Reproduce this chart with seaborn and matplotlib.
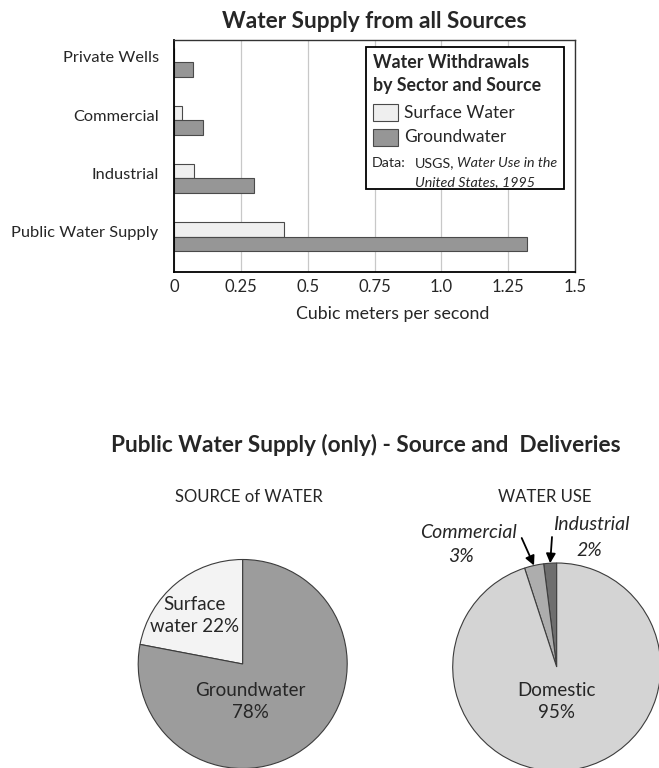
import numpy as np
import pandas as pd
import matplotlib
matplotlib.use("Agg")
import matplotlib.pyplot as plt
from matplotlib.patches import Rectangle
import seaborn as sns

# Withdrawals by sector (cubic meters per second)
sectors = ["Private Wells", "Commercial", "Industrial", "Public Water Supply"]
surface_water = [0.0, 0.03, 0.075, 0.41]
groundwater = [0.07, 0.11, 0.30, 1.32]
sources = ["Surface Water", "Groundwater"]
x_ticks = [0, 0.25, 0.5, 0.75, 1.0, 1.25, 1.5]
x_tick_labels = ["0", "0.25", "0.5", "0.75", "1.0", "1.25", "1.5"]

# Public water supply: source split and deliveries (percent)
source_names = ["Surface water", "Groundwater"]
source_share = [22, 78]
use_names = ["Industrial", "Commercial", "Domestic"]
use_share = [2, 3, 95]

W, H = 659, 768
sns.set_style("white")
plt.rcParams["font.family"] = ["Lato", "DejaVu Sans"]

fig = plt.figure(figsize=(W / 100, H / 100), dpi=100)


def fx(px):
    return px / W


def fy(py):
    return 1 - py / H


def fbox(left, top, right, bottom):
    return [fx(left), fy(bottom), (right - left) / W, (bottom - top) / H]


bar_colors = {"Surface Water": "#efefef", "Groundwater": "#969696"}

# ---- horizontal bar chart ----
ax = fig.add_axes(fbox(174, 40, 575, 272))
df = pd.DataFrame({
    "sector": sectors * 2,
    "source": [sources[0]] * len(sectors) + [sources[1]] * len(sectors),
    "flow": surface_water + groundwater,
})
sns.barplot(data=df, y="sector", x="flow", hue="source", order=sectors,
            hue_order=sources, palette=bar_colors, width=0.5, orient="h",
            edgecolor="#4a4a4a", linewidth=0.8, saturation=1, legend=False,
            errorbar=None, ax=ax)
ax.set_xlim(0, 1.5)
ax.set_ylim(3.61, -0.38)
ax.set_xticks(x_ticks, x_tick_labels)
ax.set_yticks(np.arange(len(sectors)) - 0.09, sectors)
ax.set_ylabel("")
ax.set_xlabel("Cubic meters per second", fontsize=12.8)
ax.xaxis.set_label_coords((393 - 174) / (575 - 174), -0.145)
ax.grid(axis="x", color="#c8c8c8", lw=0.9)
ax.set_axisbelow(True)
ax.tick_params(axis="both", length=0)
ax.tick_params(axis="y", pad=11, labelsize=11.8)
ax.tick_params(axis="x", pad=5, labelsize=12)
for side in ["left", "bottom"]:
    ax.spines[side].set_color("black")
    ax.spines[side].set_linewidth(1.3)
for side in ["top", "right"]:
    ax.spines[side].set_color("#333333")
    ax.spines[side].set_linewidth(1.0)

fig.text(fx(374), fy(21), "Water Supply from all Sources", ha="center",
         va="center", fontsize=16.3, fontweight="bold")

# legend box
fig.add_artist(Rectangle((fx(366), fy(189)), (564 - 366) / W, (189 - 47) / H,
                         transform=fig.transFigure, facecolor="white",
                         edgecolor="black", lw=1.3))
fig.text(fx(373), fy(63), "Water Withdrawals", ha="left", va="center",
         fontsize=12.8, fontweight="bold")
fig.text(fx(373), fy(85), "by Sector and Source", ha="left", va="center",
         fontsize=12.8, fontweight="bold")
for name, top in zip(sources, [104, 129]):
    fig.add_artist(Rectangle((fx(373), fy(top + 17)), 25 / W, 17 / H,
                             transform=fig.transFigure,
                             facecolor=bar_colors[name], edgecolor="#4a4a4a",
                             lw=0.8))
    fig.text(fx(404), fy(top + 8.5), name, ha="left", va="center",
             fontsize=12.5)
fig.text(fx(372), fy(163), "Data:", ha="left", va="center", fontsize=10.3)
fig.text(fx(415), fy(163), "USGS,", ha="left", va="center", fontsize=10.3)
fig.text(fx(457), fy(163), "Water Use in the", ha="left", va="center",
         fontsize=10.3, style="italic")
fig.text(fx(415), fy(182), "United States, 1995", ha="left", va="center",
         fontsize=10.3, style="italic")

# ---- pies ----
fig.text(fx(366), fy(445), "Public Water Supply (only) - Source and  Deliveries",
         ha="center", va="center", fontsize=16.3, fontweight="bold")
fig.text(fx(249), fy(497), "SOURCE of WATER", ha="center", va="center",
         fontsize=12)
fig.text(fx(545), fy(497), "WATER USE", ha="center", va="center",
         fontsize=12)

wedge_style = {"edgecolor": "#3c3c3c", "linewidth": 0.8, "clip_on": False}

ax1 = fig.add_axes(fbox(138.2, 559.5, 347.2, 768.5))
ax1.pie(source_share, startangle=90, counterclock=True, radius=1,
        colors=["#f3f3f3", "#9c9c9c"], wedgeprops=wedge_style)
ax1.set_xlim(-1, 1)
ax1.set_ylim(-1, 1)
ax1.text(-0.465, 0.46, f"Surface\n{source_names[0].split()[1]} {source_share[0]}%",
         ha="center", va="center", fontsize=13.5, linespacing=1.35)
ax1.text(0.07, -0.36, f"{source_names[1]}\n{source_share[1]}%",
         ha="center", va="center", fontsize=13.5, linespacing=1.35)

ax2 = fig.add_axes(fbox(452.7, 563, 660.7, 771))
wedges, _ = ax2.pie(use_share, startangle=90, counterclock=True, radius=1,
                    colors=["#6e6e6e", "#adadad", "#d4d4d4"],
                    wedgeprops=wedge_style)
ax2.set_xlim(-1, 1)
ax2.set_ylim(-1, 1)
ax2.text(0.0, -0.33, f"{use_names[2]}\n{use_share[2]}%", ha="center",
         va="center", fontsize=13.5, linespacing=1.35)

# arrows from italic labels to the two small wedges
cum = np.cumsum([0] + use_share)
label_pos = {"Industrial": ((591, 525), (589, 550), (552, 537)),
             "Commercial": ((468, 533), (461, 557), (521.7, 538))}
for i, name in enumerate(use_names[:2]):
    (tx, ty), (px, py), (sx, sy) = label_pos[name]
    fig.text(fx(tx), fy(ty), name, ha="center", va="center", fontsize=14,
             style="italic")
    fig.text(fx(px), fy(py), f"{use_share[i]}%", ha="center", va="center",
             fontsize=14, style="italic")
    theta = np.deg2rad(90 + 360 * (cum[i] + cum[i + 1]) / 2 / 100)
    ax2.annotate("", xy=(np.cos(theta), np.sin(theta)), xycoords="data",
                 xytext=(sx, H - sy), textcoords="figure pixels",
                 annotation_clip=False,
                 arrowprops=dict(arrowstyle="-|>", color="black", lw=1.3,
                                 mutation_scale=14, shrinkA=0, shrinkB=0))

fig.savefig("out.png", dpi=100)
